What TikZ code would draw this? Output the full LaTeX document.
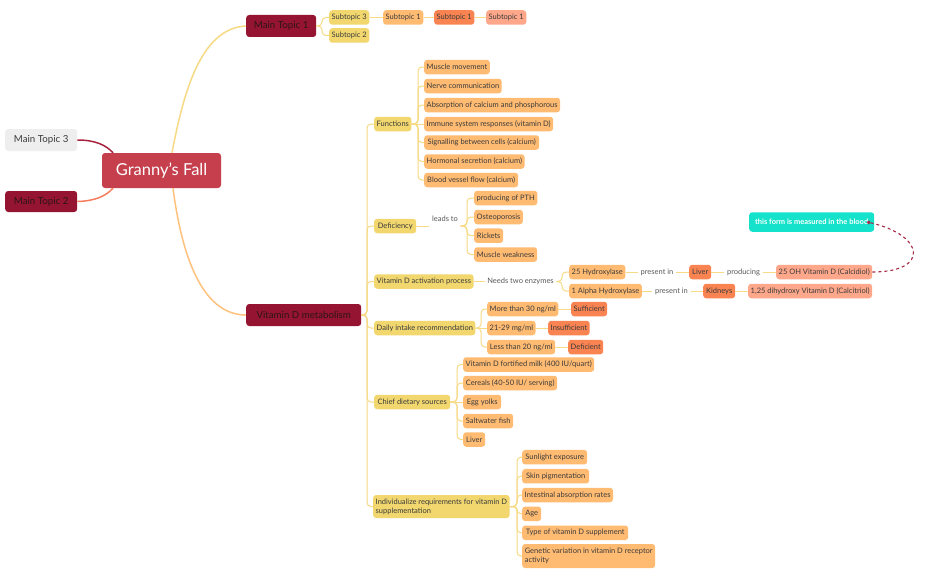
\documentclass[tikz,border=0pt]{standalone}
\usepackage{fontspec}
\setmainfont{Lato}
\usetikzlibrary{arrows.meta}
\definecolor{cC}{HTML}{C53F4D}
\definecolor{cM}{HTML}{951431}
\definecolor{cG}{HTML}{EEEEEE}
\definecolor{cY}{HTML}{F1D76E}
\definecolor{cO}{HTML}{FFBB72}
\definecolor{cD}{HTML}{F98452}
\definecolor{cS}{HTML}{FFA78A}
\definecolor{cT}{HTML}{14E2CA}
\definecolor{cL}{HTML}{F6DA85}
\definecolor{cLO}{HTML}{FFC27E}
\definecolor{cDash}{HTML}{A52A45}
\definecolor{cMT3}{HTML}{A8233F}
\definecolor{cMT2}{HTML}{F47E5E}
\definecolor{txt}{HTML}{3B3B3B}
\definecolor{mtxt}{HTML}{2E1418}
\definecolor{lblc}{HTML}{595959}
\tikzset{
  base/.style={rounded corners=3pt, inner xsep=2.5pt, inner ysep=0pt, minimum height=14.5pt,
    font=\fontsize{7.5}{9}\selectfont, text=txt, anchor=west},
  ylw/.style={base, fill=cY},
  org/.style={base, fill=cO},
  dorg/.style={base, fill=cD},
  slm/.style={base, fill=cS},
  mtopic/.style={rounded corners=3pt, fill=cM, minimum height=22pt, inner xsep=4pt,
    font=\fontsize{9.7}{11}\selectfont, text=mtxt, anchor=west},
  lbl/.style={inner xsep=2.5pt, inner ysep=0pt, font=\fontsize{7.5}{9}\selectfont, text=lblc},
  br/.style={draw=cL, line width=1pt, rounded corners=4pt},
}
\begin{document}
\begin{tikzpicture}[x=1pt,y=-1pt]
\useasboundingbox[fill=white] (0,0) rectangle (933,578);

% central and main topics
\node[rounded corners=3pt, fill=cC, text=white, minimum width=119pt, minimum height=35pt,
  font=\fontsize{16.5}{19}\selectfont] (C) at (161.5,170.5) {Granny's Fall};
\node[mtopic, fill=cG, text=txt, minimum width=72pt] (MT3) at (5,140) {Main Topic 3};
\node[mtopic, minimum width=72pt, minimum height=21pt] (MT2) at (5,201.5) {Main Topic 2};
\node[mtopic, minimum width=70pt] (MT1) at (246,26) {Main Topic 1};
\node[mtopic, minimum width=115pt] (VDM) at (246,315) {Vitamin D metabolism};

\draw[cMT3, line width=1.5pt] (MT3.east) .. controls (95,140) and (106,145) .. (C.north west -| 113,0);
\draw[cMT2, line width=1.5pt] (MT2.east) .. controls (95,201) and (106,196) .. (C.south west -| 113,0);
\draw[cL, line width=1.5pt] (C.north -| 172,0) .. controls (183,95) and (200,28) .. (MT1.west);
\draw[cLO, line width=1.5pt] (C.south -| 173,0) .. controls (181,250) and (200,315) .. (VDM.west);

% Main Topic 1 subtopics
\node[ylw, minimum width=40pt] (S3) at (329,17.5) {Subtopic 3};
\node[ylw, minimum width=40pt] (S2) at (329,35.5) {Subtopic 2};
\node[org, minimum width=39pt] (S1a) at (383,17.5) {Subtopic 1};
\node[dorg, minimum width=39pt] (S1b) at (434,17.5) {Subtopic 1};
\node[slm, minimum width=39pt] (S1c) at (486,17.5) {Subtopic 1};
\coordinate (tM1) at (322,26);
\draw[br] (MT1.east) -- (tM1) |- (S3.west);
\draw[br] (MT1.east) -- (tM1) |- (S2.west);
\draw[br] (S3.east) -- (S1a.west);
\draw[br] (S1a.east) -- (S1b.west);
\draw[br] (S1b.east) -- (S1c.west);

% main trunk
\node[ylw, minimum width=37pt] (F) at (374,124) {Functions};
\node[ylw, minimum width=42pt] (D) at (374,226) {Deficiency};
\node[ylw, minimum width=98pt] (A) at (374,281.5) {Vitamin D activation process};
\node[ylw, minimum width=100pt] (DI) at (374,328) {Daily intake recommendation};
\node[ylw, minimum width=76pt] (CS) at (374,402) {Chief dietary sources};
\node[ylw, minimum width=136pt, minimum height=23pt, align=left] (IR) at (373,506.5)
  {Individualize requirements for vitamin D\\supplementation};
\coordinate (tV) at (367,315);
\foreach \n in {F,D,A,DI,CS,IR} \draw[br] (VDM.east) -- (tV) |- (\n.west);

% Functions
\node[org, minimum width=64pt] (f1) at (424,67) {Muscle movement};
\node[org, minimum width=76pt] (f2) at (424,86) {Nerve communication};
\node[org, minimum width=135pt] (f3) at (424,105) {Absorption of calcium and phosphorous};
\node[org, minimum width=128pt] (f4) at (424,124) {Immune system responses (vitamin D)};
\node[org, minimum width=115pt] (f5) at (424,142.5) {Signalling between cells (calcium)};
\node[org, minimum width=100pt] (f6) at (424,161.5) {Hormonal secretion (calcium)};
\node[org, minimum width=94pt] (f7) at (424,180) {Blood vessel flow (calcium)};
\coordinate (tF) at (418,124);
\foreach \n in {f1,f2,f3,f5,f6,f7} \draw[br] (F.east) -- (tF) |- (\n.west);
\draw[br] (F.east) -- (f4.west);

% Deficiency
\node[lbl] (lt) at (445,218.5) {leads to};
\node[org, minimum width=62pt] (d1) at (474,198) {producing of PTH};
\node[org, minimum width=48pt] (d2) at (474,217) {Osteoporosis};
\node[org, minimum width=29pt] (d3) at (474,235.7) {Rickets};
\node[org, minimum width=63pt] (d4) at (474,254.5) {Muscle weakness};
\coordinate (tD) at (467,226);
\draw[br] (D.east) -- (D.east -| lt.west);
\foreach \n in {d1,d2,d3,d4} \draw[br] (lt.east |- D.east) -- (tD) |- (\n.west);

% Activation
\node[lbl] (ne) at (520.5,281.5) {Needs two enzymes};
\node[org, minimum width=56pt] (e1) at (569,272) {25 Hydroxylase};
\node[org, minimum width=71pt] (e2) at (569,291) {1 Alpha Hydroxylase};
\coordinate (tA) at (562,281.5);
\draw[br] (A.east) -- (ne.west);
\draw[br] (ne.east) -- (tA) |- (e1.west);
\draw[br] (ne.east) -- (tA) |- (e2.west);
\node[lbl] (p1) at (657,272) {present in};
\node[dorg, minimum width=22pt] (liv) at (689,272) {Liver};
\node[lbl] (pr) at (743.5,272) {producing};
\node[slm, minimum width=94pt] (cal) at (776,272) {25 OH Vitamin D (Calcidiol)};
\node[lbl] (p2) at (671.5,291) {present in};
\node[dorg, minimum width=32pt] (kid) at (703,291) {Kidneys};
\node[slm, minimum width=122pt] (ctr) at (748,291) {1,25 dihydroxy Vitamin D (Calcitriol)};
\draw[br] (e1.east) -- (p1.west);
\draw[br] (p1.east) -- (liv.west);
\draw[br] (liv.east) -- (pr.west);
\draw[br] (pr.east) -- (cal.west);
\draw[br] (e2.east) -- (p2.west);
\draw[br] (p2.east) -- (kid.west);
\draw[br] (kid.east) -- (ctr.west);
\node[rounded corners=3pt, fill=cT, text=white, anchor=west, minimum width=125pt, minimum height=19.5pt,
  inner xsep=4pt, font=\fontsize{7.5}{9}\selectfont\bfseries] (blood) at (749,222) {this form is measured in the blood};
\coordinate (bt) at (867,222);
\draw[cDash, line width=1.1pt, dashed, -{Circle[length=3.5pt]}] (cal.east) .. controls (930,272) and (925,235) .. (bt);

% Daily intake
\node[org, minimum width=71pt] (i1) at (487,309) {More than 30 ng/ml};
\node[org, minimum width=48pt] (i2) at (487,328) {21-29 mg/ml};
\node[org, minimum width=68pt] (i3) at (487,347) {Less than 20 ng/ml};
\node[dorg, minimum width=36pt] (j1) at (571,309) {Sufficient};
\node[dorg, minimum width=41pt] (j2) at (548,328) {Insufficient};
\node[dorg, minimum width=35pt] (j3) at (568,347) {Deficient};
\coordinate (tDI) at (481,328);
\draw[br] (DI.east) -- (tDI) |- (i1.west);
\draw[br] (DI.east) -- (i2.west);
\draw[br] (DI.east) -- (tDI) |- (i3.west);
\draw[br] (i1.east) -- (j1.west);
\draw[br] (i2.east) -- (j2.west);
\draw[br] (i3.east) -- (j3.west);

% Chief dietary sources
\node[org, minimum width=129pt] (c1) at (463,364.5) {Vitamin D fortified milk (400 IU/quart)};
\node[org, minimum width=94pt] (c2) at (463,383) {Cereals (40-50 IU/ serving)};
\node[org, minimum width=38pt] (c3) at (463,402) {Egg yolks};
\node[org, minimum width=50pt] (c4) at (463,421) {Saltwater fish};
\node[org, minimum width=22pt] (c5) at (463,439.5) {Liver};
\coordinate (tCS) at (457,402);
\foreach \n in {c1,c2,c4,c5} \draw[br] (CS.east) -- (tCS) |- (\n.west);
\draw[br] (CS.east) -- (c3.west);

% Individualize
\node[org, minimum width=65pt] (r1) at (522,457.2) {Sunlight exposure};
\node[org, minimum width=67pt] (r2) at (522,476.2) {Skin pigmentation};
\node[org, minimum width=89pt] (r3) at (522,495) {Intestinal absorption rates};
\node[org, minimum width=19pt] (r4) at (522,513.8) {Age};
\node[org, minimum width=106pt] (r5) at (522,532.8) {Type of vitamin D supplement};
\node[org, minimum width=133pt, minimum height=24pt, align=left] (r6) at (522,556)
  {Genetic variation in vitamin D receptor\\activity};
\coordinate (tIR) at (517,506.5);
\foreach \n in {r1,r2,r3,r4,r5,r6} \draw[br] (IR.east) -- (tIR) |- (\n.west);
\end{tikzpicture}
\end{document}
